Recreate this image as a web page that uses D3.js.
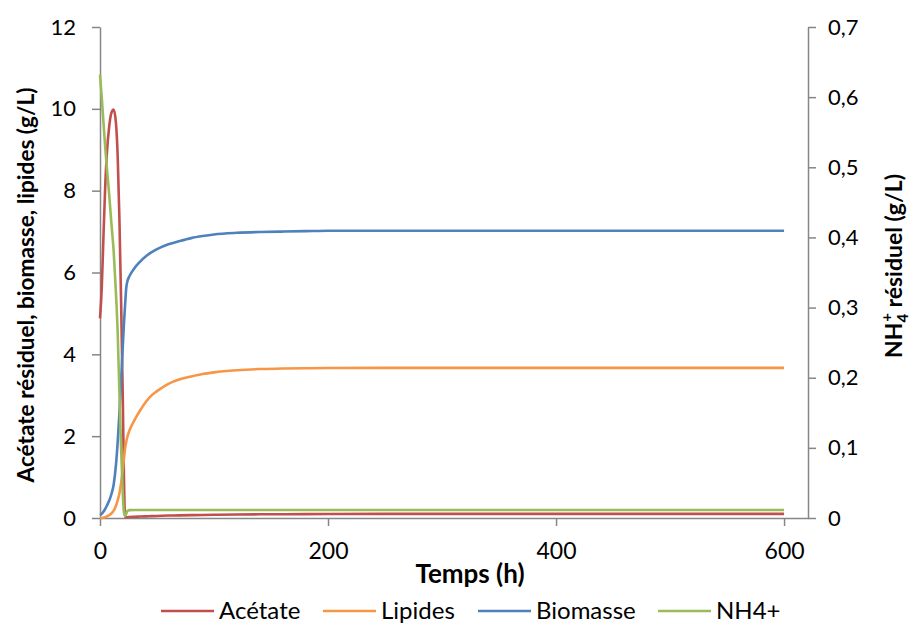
<!DOCTYPE html>
<html><head><meta charset="utf-8">
<script src="https://cdn.jsdelivr.net/npm/d3@7"></script>
<style>body{margin:0;background:#fff}svg{display:block}text{font-family:Lato,"Open Sans",sans-serif;fill:#000}</style>
</head><body><div id="chart"></div>
<script>
const time =     [0, 1.5, 3, 4.5, 6, 8, 10, 12, 14, 15.5, 17, 18.5, 20, 21, 22, 23, 24, 26, 30, 35, 40, 45, 50, 60, 70, 80, 90, 100, 120, 140, 160, 180, 200, 250, 300, 400, 500, 600];
const acetate =  [4.88, 5.6, 6.85, 8.05, 8.9, 9.55, 9.9, 9.98, 9.65, 8.85, 7.35, 5.3, 2.9, 1.0, 0.02, 0.02, 0.02, 0.025, 0.03, 0.035, 0.04, 0.045, 0.05, 0.06, 0.065, 0.07, 0.075, 0.08, 0.085, 0.09, 0.092, 0.095, 0.097, 0.1, 0.1, 0.1, 0.1, 0.1];
const lipides =  [0, 0, 0.01, 0.02, 0.04, 0.07, 0.11, 0.18, 0.3, 0.43, 0.6, 0.85, 1.2, 1.45, 1.7, 1.86, 1.98, 2.15, 2.38, 2.62, 2.83, 2.99, 3.1, 3.28, 3.39, 3.46, 3.52, 3.56, 3.61, 3.64, 3.655, 3.66, 3.665, 3.67, 3.67, 3.67, 3.67, 3.67];
const biomasse = [0.07, 0.1, 0.15, 0.22, 0.3, 0.42, 0.58, 0.82, 1.3, 1.85, 2.55, 3.35, 4.2, 4.75, 5.2, 5.62, 5.78, 5.92, 6.1, 6.26, 6.39, 6.49, 6.57, 6.69, 6.77, 6.84, 6.89, 6.93, 6.97, 6.99, 7.0, 7.01, 7.02, 7.02, 7.02, 7.02, 7.02, 7.02];
const nh4 =      [0.632, 0.6, 0.565, 0.53, 0.5, 0.462, 0.42, 0.38, 0.32, 0.265, 0.18, 0.1, 0.035, 0.008, 0.003, 0.006, 0.01, 0.0112, 0.0115, 0.0115, 0.0115, 0.0115, 0.0115, 0.0115, 0.0115, 0.0115, 0.0115, 0.0115, 0.0115, 0.0115, 0.0115, 0.0115, 0.0115, 0.0115, 0.0115, 0.0115, 0.0115, 0.0115];
const xTicks = [0, 200, 400, 600];
const yLeftTicks = [0, 2, 4, 6, 8, 10, 12];
const yRightTicks = [0, 0.1, 0.2, 0.3, 0.4, 0.5, 0.6, 0.7];
const seriesNames = ["Acétate", "Lipides", "Biomasse", "NH4+"];
const colors = ["#C0504D", "#F79646", "#4F81BD", "#9BBB59"];

const W = 911, H = 623;
const L = 100, R = 808, T = 27, B = 518;
const svg = d3.select("#chart").append("svg").attr("width", W).attr("height", H);
const x = d3.scaleLinear().domain([0, 621]).range([L, R]);
const yL = d3.scaleLinear().domain([0, 12]).range([B, T]);
const yR = d3.scaleLinear().domain([0, 0.7]).range([B, T]);
const axisColor = "#868686";
const fr = v => String(+v.toFixed(1)).replace(".", ",");

function style(g){ g.selectAll(".domain").attr("stroke", axisColor).attr("stroke-width", 1.5);
  g.selectAll(".tick line").attr("stroke", axisColor).attr("stroke-width", 1.5);
  g.selectAll(".tick text").style("font-size", "22px").style("font-family", "Lato"); }

const gx = svg.append("g").attr("transform", `translate(0,${B})`)
  .call(d3.axisBottom(x).tickValues(xTicks).tickSize(8).tickSizeOuter(0).tickPadding(17)).call(style);
gx.selectAll(".tick text").style("font-size", "23px");
svg.append("g").attr("transform", `translate(${L},0)`)
  .call(d3.axisLeft(yL).tickValues(yLeftTicks).tickSize(8).tickSizeOuter(0).tickPadding(16)).call(style);
svg.append("g").attr("transform", `translate(${R},0)`)
  .call(d3.axisRight(yR).tickValues(yRightTicks).tickFormat(fr).tickSize(8).tickSizeOuter(0).tickPadding(12)).call(style);

const data = [acetate, lipides, biomasse, nh4];
const scales = [yL, yL, yL, yR];
data.forEach((vals, i) => {
  const line = d3.line().x((d, j) => x(time[j])).y(d => scales[i](d)).curve(d3.curveMonotoneX);
  svg.append("path").datum(vals).attr("d", line).attr("fill", "none")
    .attr("stroke", colors[i]).attr("stroke-width", 2.6);
});

svg.append("text").attr("x", 470).attr("y", 583).attr("text-anchor", "middle")
  .style("font-size", "26px").style("font-weight", "bold").text("Temps (h)");
svg.append("text").attr("transform", "translate(34,285) rotate(-90)").attr("text-anchor", "middle")
  .style("font-size", "22.6px").style("font-weight", "bold").text("Acétate résiduel, biomasse, lipides (g/L)");
const rt = svg.append("text").attr("transform", "translate(902,266) rotate(-90)").attr("text-anchor", "middle")
  .style("font-size", "23px").style("font-weight", "bold");
rt.append("tspan").text("NH");
rt.append("tspan").attr("dy", 6).style("font-size", "15px").text("4");
rt.append("tspan").attr("dy", -16).attr("dx", -8).style("font-size", "15px").text("+");
rt.append("tspan").attr("dy", 10).text(" résiduel (g/L)");

const legX = [161, 323, 478, 658];
seriesNames.forEach((n, i) => {
  svg.append("line").attr("x1", legX[i]).attr("x2", legX[i] + 53).attr("y1", 611).attr("y2", 611)
    .attr("stroke", colors[i]).attr("stroke-width", 2.6);
  svg.append("text").attr("x", legX[i] + 58).attr("y", 619).style("font-size", "24px").text(n);
});
</script></body></html>
